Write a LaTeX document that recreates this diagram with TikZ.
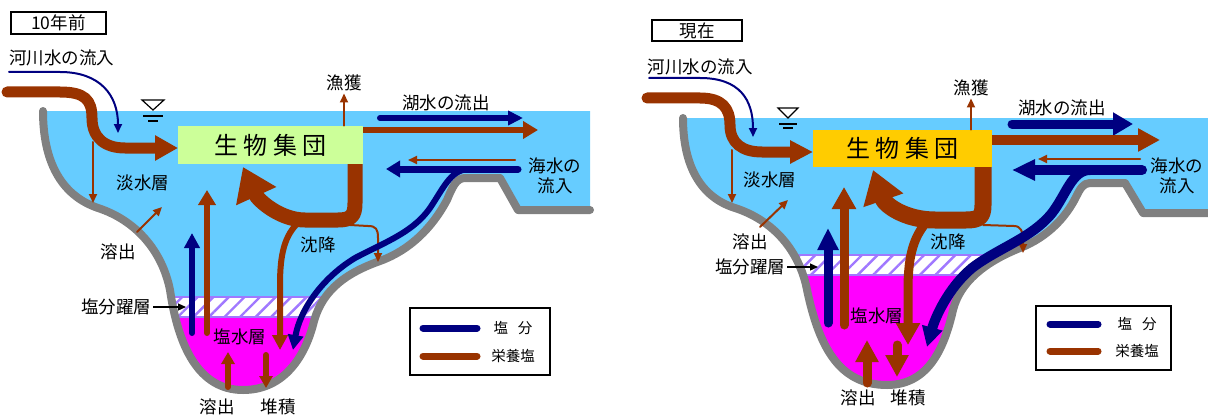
\documentclass[tikz,border=0pt]{standalone}
\usepackage{fontspec}
\setmainfont{Noto Sans CJK JP}
\usetikzlibrary{arrows.meta,positioning,patterns.meta}
\definecolor{saltblue}{RGB}{0,0,128}
\definecolor{nutbrown}{RGB}{153,51,0}
\definecolor{lakeblue}{RGB}{102,204,255}
\definecolor{bankgray}{RGB}{128,128,128}
\definecolor{brine}{RGB}{255,0,255}
\definecolor{hatchpurple}{RGB}{160,120,255}
\definecolor{biogreen}{RGB}{204,255,153}
\definecolor{biogold}{RGB}{255,204,0}
\newcommand\lblfont{\fontsize{8.75pt}{10pt}\selectfont}
\newcommand\keyfont{\fontsize{7.25pt}{9pt}\selectfont}
\newcommand\biofont{\fontsize{12pt}{14pt}\selectfont}
\def\shoreA{(43,111) .. controls (43,160) and (60,195) .. (98,208) .. controls (135,220) and (162,250) .. (170,290) .. controls (178,345) and (198,390) .. (243,390) .. controls (285,390) and (305,355) .. (313,325) .. controls (320,295) and (340,275) .. (380,261) .. controls (410,250) and (432,228) .. (447,200) .. controls (452,188) and (456,178) .. (465,178) -- (500,178) -- (518,210) -- (590,210)}
\def\shoreB{(683,118) .. controls (683,165) and (700,197) .. (735,208) .. controls (772,220) and (797,248) .. (806,285) .. controls (818,345) and (838,385) .. (887,385) .. controls (930,385) and (945,345) .. (953,310) .. controls (960,282) and (985,262) .. (1020,248) .. controls (1048,237) and (1066,217) .. (1076,197) .. controls (1080,189) and (1083,183) .. (1090,183) -- (1125,183) -- (1143,213) -- (1212,213)}

\begin{document}
\begin{tikzpicture}[x=0.5pt,y=-0.5pt,lbl/.style={font=\lblfont,inner sep=1pt},bank/.style={draw=bankgray,line width=4pt,line cap=round,line join=round},salt/.style={draw=saltblue,line cap=round,line join=round},nut/.style={draw=nutbrown,line cap=round,line join=round},trickle/.style={nut,line width=1pt,-{Triangle[width=4pt,length=4.5pt]}},flowA/.style={line width=3pt,-{Triangle[width=7.5pt,length=7.5pt]}},flowB/.style={line width=4.5pt,-{Triangle[width=11pt,length=11pt]}},cline/.style={pattern={Lines[angle=45,distance=5.5pt,line width=1.2pt]},pattern color=hatchpurple},tag/.style={lbl,draw,line width=0.6pt},level/.style={line width=0.6pt}]
\useasboundingbox (0,0) rectangle (1208,417);

\fill[lakeblue] \shoreA -- (590,111) -- cycle;
\begin{scope}
\clip \shoreA -- (590,111) -- cycle;
\fill[brine] (0,317) rectangle (600,417);
\fill[white] (0,297) rectangle (600,317);
\fill[cline] (0,297) rectangle (600,317);
\draw[hatchpurple,line width=1pt] (0,297) -- (600,297) (0,317) -- (600,317);
\end{scope}
\draw[bank] \shoreA;

\fill[lakeblue] \shoreB -- (1212,118) -- cycle;
\begin{scope}
\clip \shoreB -- (1212,118) -- cycle;
\fill[brine] (600,275) rectangle (1212,417);
\fill[white] (600,255) rectangle (1212,275);
\fill[cline] (600,255) rectangle (1212,275);
\draw[hatchpurple,line width=1pt] (600,255) -- (1212,255) (600,275) -- (1212,275);
\end{scope}
\draw[bank] \shoreB;

\draw[level,fill=white] (142,100) -- (164,100) -- (153,110) -- cycle;
\draw[level] (143,116) -- (163,116) (148,121) -- (158,121);
\draw[level,fill=white] (778,108) -- (798,108) -- (788,118) -- cycle;
\draw[level] (779,124) -- (797,124) (783,128) -- (793,128);

\draw[salt,line width=1pt,-{Triangle[width=4pt,length=4.5pt]}] (9,72) -- (60,72) .. controls (100,72) and (118,95) .. (118,133);
\draw[nut,line width=5.5pt,-{Triangle[width=12pt,length=11.5pt]}] (7,92) -- (60,92) .. controls (85,92) and (92,100) .. (92,118) .. controls (92,138) and (105,148) .. (125,148) -- (178,148);
\draw[trickle] (93,142) -- (93,203);
\draw[trickle] (137,232) -- (162,207);
\draw[salt,flowA] (192,333) -- (192,233);
\draw[nut,flowA,-{Triangle[width=8.5pt,length=7.5pt]}] (207,333) -- (207,190);
\draw[nut,line width=7.5pt,-{Triangle[width=21pt,length=16pt]}] (355,158) -- (355,203) .. controls (355,216) and (351,220) .. (338,220) -- (305,220) .. controls (280,220) and (258,200) .. (243,167);
\draw[nut,flowA] (300,221) .. controls (284,235) and (280,255) .. (280,285) -- (280,350);
\draw[trickle] (350,225) -- (368,226) .. controls (376,226) and (378,229) .. (378,238) -- (378,262);
\draw[salt,flowA,-{Triangle[width=7pt,length=7.5pt]}] (380,118) -- (523,118);
\draw[nut,flowA,-{Triangle[width=8.5pt,length=7.5pt]}] (360,130) -- (538,130);
\draw[trickle] (515,160) -- (408,160);
\draw[salt,line width=3.5pt,-{Triangle[width=8pt,length=7pt]}] (518,169) -- (386,169);
\draw[salt,flowA] (470,169) .. controls (452,169) and (445,185) .. (432,205) .. controls (415,232) and (385,242) .. (355,258) .. controls (322,278) and (300,310) .. (293,350);
\draw[nut,flowA,-{Triangle[width=6.5pt,length=6pt]}] (228,387) -- (228,352);
\draw[nut,flowA,-{Triangle[width=6.5pt,length=6pt]}] (266,355) -- (266,388);

\draw[salt,line width=1pt,-{Triangle[width=4pt,length=4.5pt]}] (649,78) -- (700,78) .. controls (740,78) and (753,100) .. (753,137);
\draw[nut,line width=5.5pt,-{Triangle[width=11pt,length=11.5pt]}] (647,98) -- (700,98) .. controls (722,98) and (730,108) .. (730,125) .. controls (730,143) and (742,152) .. (762,152) -- (813,152);
\draw[trickle] (732,150) -- (732,203);
\draw[trickle] (760,227) -- (788,200);
\draw[salt,flowB,-{Triangle[width=10pt,length=11pt]}] (828,323) -- (828,228);
\draw[nut,flowB,-{Triangle[width=11.5pt,length=11pt]}] (844,325) -- (844,187);
\draw[nut,line width=8.5pt,-{Triangle[width=20pt,length=16pt]}] (983,160) -- (983,205) .. controls (983,217) and (979,220) .. (966,220) -- (935,220) .. controls (905,220) and (885,205) .. (873,170);
\draw[nut,flowB,-{Triangle[width=11.5pt,length=11pt]}] (925,224) .. controls (912,240) and (908,260) .. (908,290) -- (908,345);
\draw[trickle] (983,225) -- (1014,226) .. controls (1021,226) and (1023,232) .. (1023,240) -- (1023,253);
\draw[salt,flowB,-{Triangle[width=11pt,length=10pt]}] (1012,124) -- (1133,124);
\draw[nut,line width=5pt,-{Triangle[width=11pt,length=11pt]}] (990,140) -- (1160,140);
\draw[trickle] (1140,159) -- (1038,159);
\draw[salt,line width=5pt,-{Triangle[width=10pt,length=11.5pt]}] (1142,170) -- (1012,170);
\draw[salt,line width=5pt,-{Triangle[width=10pt,length=10pt]}] (1090,170) .. controls (1072,170) and (1066,195) .. (1052,213) .. controls (1032,238) and (998,248) .. (972,268) .. controls (948,288) and (935,318) .. (927,347);
\draw[nut,flowB] (867,383) -- (867,340);
\draw[nut,flowB] (897,345) -- (897,377);

\node[tag,minimum width=47.5pt,minimum height=11pt] (tA) at (58.5,23) {10年前};
\node[lbl] (rivA) at (62,58) {河川水の流入};
\node[fill=biogreen,font=\biofont,minimum width=92.5pt,minimum height=19pt] (bioA) at (270.5,145) {生 物 集 団};
\node[lbl] (catchA) at (344,83) {漁獲};
\draw[trickle] (bioA.north -| catchA) -- (catchA.south);
\node[lbl] (outA) at (446,103) {湖水の流出};
\node[lbl,align=center] (seaA) at (555,176) {海水の\\流入};
\node[lbl] (freshA) at (143,183) {淡水層};
\node[lbl] (dissA) at (118,252) {溶出};
\node[lbl] (settleA) at (318,245) {沈降};
\node[lbl] (clineA) at (116,307) {塩分躍層};
\draw[line width=0.6pt,-{Triangle[width=3.5pt,length=4pt]}] (clineA.east) -- (186,307);
\node[lbl] (brineA) at (240,337) {塩水層};
\node[lbl] (upA) at (217,407) {溶出};
\node[lbl] (downA) at (278,407) {堆積};
\draw[line width=0.7pt] (410,308) rectangle (550,375);
\draw[salt,line width=3.5pt] (423,328) -- (477,328);
\draw[nut,line width=3.5pt] (423,356) -- (477,356);
\node[font=\keyfont] (keysA) at (513,328) {塩\hspace{5pt}分};
\node[font=\keyfont] (keynA) at (513,356) {栄養塩};

\node[tag,minimum width=45pt,minimum height=10.5pt] (tB) at (697,30.5) {現在};
\node[lbl] (rivB) at (700,67) {河川水の流入};
\node[fill=biogold,font=\biofont,minimum width=89.5pt,minimum height=18.5pt] (bioB) at (902.5,148.5) {生 物 集 団};
\node[lbl] (catchB) at (971,88) {漁獲};
\draw[trickle] (bioB.north -| catchB) -- (catchB.south);
\node[lbl] (outB) at (1062,108) {湖水の流出};
\node[lbl,align=center] (seaB) at (1177,176) {海水の\\流入};
\node[lbl] (freshB) at (770,180) {淡水層};
\node[lbl] (dissB) at (750,242) {溶出};
\node[lbl] (settleB) at (948,242) {沈降};
\node[lbl] (clineB) at (750,267) {塩分躍層};
\draw[line width=0.6pt,-{Triangle[width=3.5pt,length=4pt]}] (clineB.east) -- (818,267);
\node[lbl] (brineB) at (877,316) {塩水層};
\node[lbl] (upB) at (858,398) {溶出};
\node[lbl] (downB) at (908,398) {堆積};
\draw[line width=0.7pt] (1036,306) rectangle (1171,370);
\draw[salt,line width=3.5pt] (1050,324) -- (1098,324);
\draw[nut,line width=3.5pt] (1050,351) -- (1098,351);
\node[font=\keyfont] (keysB) at (1137,324) {塩\hspace{5pt}分};
\node[font=\keyfont] (keynB) at (1137,351) {栄養塩};
\end{tikzpicture}
\end{document}
